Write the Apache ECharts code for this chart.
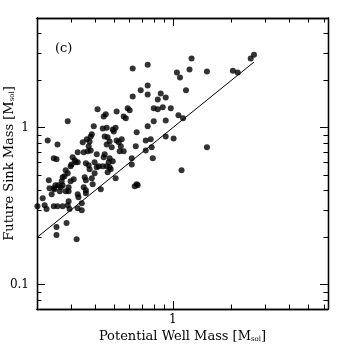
<!DOCTYPE html>
<html>
<head>
    <meta charset="UTF-8" />
    <title>Future Sink Mass vs Potential Well Mass</title>
    <script src="https://cdn.jsdelivr.net/npm/echarts@6/dist/echarts.min.js"></script>
    <style>
        html, body { margin: 0; padding: 0; background: #fff; }
        #main { width: 346px; height: 346px; }
    </style>
</head>
<body>
<div id="main"></div>
<script>
/* Potential well mass (x) and future sink mass (y), both in M_sol */
var wellMass = [
    2.62, 2.52, 1.25, 0.743, 0.622, 1.22, 2.04, 1.50, 2.16, 1.05, 1.09,
    1.17, 0.684, 0.743, 0.743, 0.622, 0.867, 0.920, 0.837,
    0.410, 0.514, 0.586, 0.600, 0.798, 0.837, 0.888, 0.977, 1.07, 1.13,
    0.452, 0.441, 0.559, 0.573, 0.920, 0.798, 0.288,
    0.743, 0.652, 0.726, 0.770, 0.645, 0.779, 0.546, 0.527, 0.920, 1.01, 1.50,
    0.392, 0.436, 0.491, 0.497, 0.508, 0.383, 0.446, 0.462, 0.344, 0.361,
    0.373, 0.473, 0.514, 0.457, 0.369, 0.227, 0.255, 0.485,
    0.324, 0.348, 0.365, 0.378, 0.533, 0.559, 0.446, 0.406,
    0.244, 0.252, 0.305, 0.313, 0.316, 0.324, 0.301, 0.357, 0.369, 0.396,
    0.441, 0.468, 0.473, 0.491, 0.615, 0.615, 0.789,
    0.416, 0.436, 0.406, 0.457, 0.298, 0.373, 0.473, 0.479, 0.462, 0.396,
    0.281, 0.277, 0.288, 0.271, 1.11, 0.508, 0.352, 0.383, 0.309, 0.268,
    0.298, 0.357, 0.387, 0.230, 0.258, 0.271, 0.249, 0.637, 0.652, 0.660,
    0.265, 0.291, 0.348, 0.232, 0.244, 0.246, 0.426, 0.262, 0.281, 0.291,
    0.357, 0.357, 0.324, 0.238, 0.327, 0.214, 0.219, 0.201, 0.224, 0.244,
    0.255, 0.271, 0.288, 0.291, 0.294, 0.324, 0.340, 0.340,
    0.252, 0.252, 0.284, 0.320, 0.726, 0.540, 0.457, 0.378
];
var sinkMass = [
    2.92, 2.76, 2.76, 2.52, 2.38, 2.35, 2.31, 2.28, 2.25, 2.25, 2.09,
    1.73, 1.73, 1.86, 1.63, 1.58, 1.65, 1.56, 1.51,
    1.31, 1.27, 1.33, 1.29, 1.33, 1.31, 1.35, 1.33, 1.20, 1.15,
    1.22, 1.18, 1.18, 1.15, 1.11, 1.10, 1.10,
    1.02, 0.934, 0.830, 0.843, 0.761, 0.750, 0.843, 0.807, 0.880, 0.855, 0.750,
    1.02, 0.990, 0.975, 0.947, 1.00, 0.907, 0.880, 0.868, 0.807, 0.843,
    0.818, 0.818, 0.830, 0.783, 0.761, 0.830, 0.783, 0.750,
    0.697, 0.697, 0.707, 0.717, 0.707, 0.707, 0.677, 0.677,
    0.638, 0.629, 0.648, 0.620, 0.602, 0.602, 0.584, 0.593, 0.576, 0.602,
    0.648, 0.602, 0.638, 0.611, 0.638, 0.584, 0.638,
    0.568, 0.568, 0.560, 0.568, 0.568, 0.543, 0.560, 0.543, 0.520, 0.513,
    0.535, 0.490, 0.513, 0.483, 0.535, 0.476, 0.483, 0.476, 0.469, 0.456,
    0.456, 0.462, 0.436, 0.462, 0.430, 0.430, 0.430, 0.424, 0.436, 0.430,
    0.417, 0.417, 0.417, 0.411, 0.411, 0.406, 0.406, 0.394, 0.394, 0.394,
    0.400, 0.382, 0.377, 0.377, 0.361, 0.355, 0.321, 0.316, 0.303, 0.316,
    0.316, 0.316, 0.321, 0.340, 0.303, 0.307, 0.330, 0.298,
    0.233, 0.207, 0.247, 0.195, 0.717, 0.761, 1.00, 0.880
];

/* 1:1 line */
var lineX = [0.2, 2.62];
var lineY = [0.2, 2.62];

/* axis ranges and ticks (data units) */
var xRange = [0.2, 6.3];
var yRange = [0.07, 5];
var xMajor = [1];
var xMinor = [0.3, 0.4, 0.5, 0.6, 0.7, 0.8, 0.9, 2, 3, 4, 5, 6];
var yMajor = [0.1, 1];
var yMinor = [0.08, 0.09, 0.2, 0.3, 0.4, 0.5, 0.6, 0.7, 0.8, 0.9, 2, 3, 4];

var lg = function (v) { return Math.log10(v); };
var fmt = function (v) { return String(Number(Math.pow(10, v).toPrecision(3))); };

var FONT = 'DejaVu Serif';
var rich = { sub: { fontFamily: FONT, fontSize: 7, padding: [6, 0, 0, 0] } };

function makeAxis(kind, pos, range, ticks, len, labels, name) {
    var ax = {
        type: 'value',
        gridIndex: 0,
        position: pos,
        min: lg(range[0]),
        max: lg(range[1]),
        axisLine: { show: true, onZero: false, lineStyle: { color: '#000', width: 1.3 } },
        axisTick: { show: true, inside: true, length: len, customValues: ticks.map(lg),
                    lineStyle: { color: '#000', width: 1 } },
        axisLabel: { show: false },
        splitLine: { show: false }
    };
    if (labels) {
        ax.axisLabel = {
            show: true,
            customValues: labels.map(lg),
            formatter: fmt,
            color: '#000',
            fontFamily: FONT,
            fontSize: 12,
            margin: kind === 'x' ? 5 : 8
        };
    }
    if (name) {
        ax.name = name;
        ax.nameLocation = 'middle';
        ax.nameGap = 21;
        ax.nameMoveOverlap = false;
        ax.nameTextStyle = { color: '#000', fontFamily: FONT, fontSize: 13, rich: rich };
    }
    return ax;
}

var scatterData = wellMass.map(function (x, i) { return [lg(x), lg(sinkMass[i])]; });
var lineData = lineX.map(function (x, i) { return [lg(x), lg(lineY[i])]; });

var myChart = echarts.init(document.getElementById('main'));

var option = {
    backgroundColor: '#fff',
    animation: false,
    title: {
        text: '(c)',
        left: 50,
        top: 37,
        textStyle: { fontFamily: FONT, fontSize: 13, fontWeight: 'normal', color: '#000' }
    },
    grid: { left: 37, right: 18, top: 18, bottom: 37, containLabel: false, outerBoundsMode: 'none' },
    xAxis: [
        makeAxis('x', 'bottom', xRange, xMajor, 8, xMajor, 'Potential Well Mass [M{sub|sol}]'),
        makeAxis('x', 'bottom', xRange, xMinor, 4.5),
        makeAxis('x', 'top', xRange, xMajor, 8),
        makeAxis('x', 'top', xRange, xMinor, 4.5)
    ],
    yAxis: [
        makeAxis('y', 'left', yRange, yMajor, 8, yMajor, 'Future Sink Mass [M{sub|sol}]'),
        makeAxis('y', 'left', yRange, yMinor, 4.5),
        makeAxis('y', 'right', yRange, yMajor, 8),
        makeAxis('y', 'right', yRange, yMinor, 4.5)
    ],
    series: [
        {
            type: 'scatter',
            xAxisIndex: 0,
            yAxisIndex: 0,
            data: scatterData,
            symbol: 'circle',
            symbolSize: 6,
            itemStyle: { color: '#000' }
        },
        {
            type: 'line',
            xAxisIndex: 0,
            yAxisIndex: 0,
            data: lineData,
            symbol: 'none',
            lineStyle: { color: '#000', width: 1 }
        }
    ]
};

myChart.setOption(option);
</script>
</body>
</html>
